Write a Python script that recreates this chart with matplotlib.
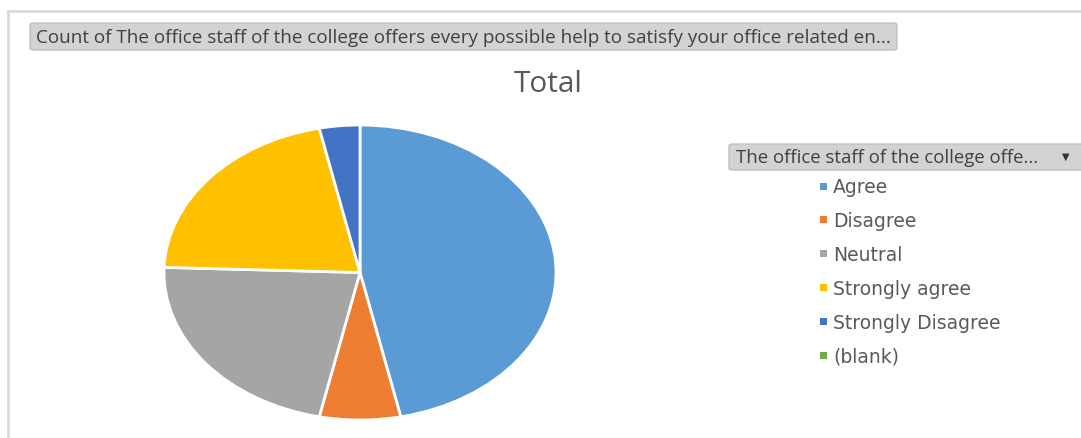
import matplotlib
matplotlib.use("Agg")
import matplotlib.pyplot as plt
from matplotlib.patches import FancyBboxPatch, Rectangle
from matplotlib.lines import Line2D

# data
categories = ["Agree", "Disagree", "Neutral", "Strongly agree", "Strongly Disagree", "(blank)"]
counts = [42, 6, 20, 19, 3, 0]
colors = ["#5B9BD5", "#ED7D31", "#A5A5A5", "#FFC000", "#4472C4", "#70AD47"]
field_title = "Count of The office staff of the college offers every possible help to satisfy your office related en..."
legend_title = "The office staff of the college offe..."
chart_title = "Total"

W, H = 1081, 439
TEXT = "#595959"
FONT = "Open Sans"

fig = plt.figure(figsize=(W / 100, H / 100), dpi=100)
fig.patch.set_facecolor("white")


def fx(px):
    return px / W


def fy(py):
    return 1 - py / H


# outer frame (left and top edges)
fig.add_artist(Line2D([fx(8), fx(8)], [fy(12), fy(H)], color="#d9d9d9", lw=2))
fig.add_artist(Line2D([fx(8), fx(W)], [fy(12), fy(12)], color="#d9d9d9", lw=2))


def button(x0, y0, x1, y1):
    p = FancyBboxPatch((fx(x0), fy(y1)), fx(x1) - fx(x0), fy(y0) - fy(y1),
                       boxstyle="round,pad=0,rounding_size=0.004",
                       transform=fig.transFigure, facecolor="#d3d3d3",
                       edgecolor="#c0c0c0", lw=1)
    fig.add_artist(p)


def fit_size(s, width_px, size=11, family=FONT):
    t = fig.text(0, 0, s, fontsize=size, family=family)
    w = t.get_window_extent(renderer=fig.canvas.get_renderer()).width
    t.remove()
    return size * width_px / w


# field button with the value field name
button(30, 24, 897, 51)
fig.text(fx(36), fy(38), field_title, fontsize=fit_size(field_title, 856),
         family=FONT, color="#404040", va="center")

# chart title
fig.text(fx(548), fy(84), chart_title, fontsize=fit_size(chart_title, 69),
         family=FONT, color=TEXT, ha="center", va="center")

# pie, drawn as a stretched ellipse like the screenshot
ax = fig.add_axes([fx(164), fy(421), fx(392), fy(126) - fy(421)])
pie_vals = [v for v in counts if v > 0]
pie_cols = [c for v, c in zip(counts, colors) if v > 0]
ax.pie(pie_vals, colors=pie_cols, startangle=90, counterclock=False,
       wedgeprops=dict(edgecolor="white", linewidth=2))
ax.set_aspect("auto")
ax.set_xlim(-1.0, 1.0)
ax.set_ylim(-1.0, 1.0)
ax.axis("off")

# legend field button
button(729, 145, W + 5, 171)
fig.text(fx(736), fy(158), legend_title, fontsize=fit_size(legend_title, 304),
         family=FONT, color="#404040", va="center")
fig.text(fx(1066), fy(157), "\u25BC", fontsize=7, color="#303030",
         ha="center", va="center")

# legend entries
LEG_FONT = "DejaVu Sans"
leg_size = fit_size("Strongly Disagree", 168, family=LEG_FONT)
y0, step = 188, 33.8
for i, (lab, col) in enumerate(zip(categories, colors)):
    yy = y0 + i * step
    fig.add_artist(Rectangle((fx(820), fy(yy + 2.5)), fx(7), fy(0) - fy(7),
                             transform=fig.transFigure, facecolor=col,
                             edgecolor="none"))
    fig.text(fx(833), fy(yy), lab, fontsize=leg_size, family=LEG_FONT,
             color=TEXT, va="center")

fig.savefig("out.png", dpi=100)
